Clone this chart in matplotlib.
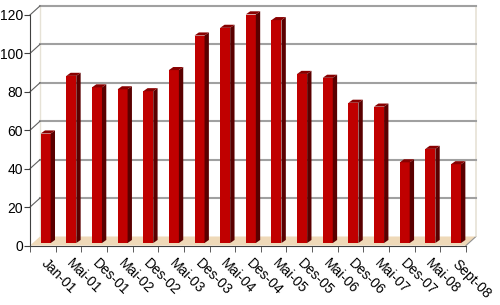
import matplotlib
matplotlib.use("Agg")
import matplotlib.pyplot as plt
from matplotlib.patches import Polygon
import matplotlib.transforms as mtransforms

plt.rcParams['font.family'] = ['Liberation Sans', 'DejaVu Sans']

labels = ['Jan-01', 'Mai-01', 'Des-01', 'Mai-02', 'Des-02', 'Mai-03', 'Des-03',
          'Mai-04', 'Des-04', 'Mai-05', 'Des-05', 'Mai-06', 'Des-06', 'Mai-07',
          'Des-07', 'Mai-08', 'Sept-08']
values = [57, 87, 81, 80, 79, 90, 108, 112, 119, 116, 88, 86, 73, 71, 42, 49, 41]
yticks = [0, 20, 40, 60, 80, 100, 120]

n = len(values)
ymax = 120
# 3d depth of the walls and of the bars (data units)
wdx, wdy = 0.39, 4.7
bdx, bdy = 0.17, 1.6
boff_x, boff_y = 0.11, 1.3
bw = 0.39

front = '#c00000'
side = '#5a0000'
top = '#880000'
grid_c = '#a0a0a0'
wall_c = '#e6e2d6'
floor_c = '#efd9b8'
axis_c = '#404040'

fig = plt.figure(figsize=(5, 3.05), dpi=100)
ax = fig.add_axes([0.06, 0.195, 0.872, 0.756])
ax.set_xlim(0, n)
ax.set_ylim(0, ymax)

# floor
ax.add_patch(Polygon([(0, 0), (n, 0), (n + wdx, wdy), (wdx, wdy)],
                     closed=True, facecolor=floor_c, edgecolor='none',
                     zorder=1, clip_on=False))
ax.plot([n, n + wdx], [0, wdy], color='#909090', lw=0.8, zorder=1, clip_on=False)

# walls
ax.plot([wdx, n + wdx], [ymax + wdy, ymax + wdy], color=wall_c, lw=1.2,
        zorder=1, clip_on=False)
ax.plot([n + wdx, n + wdx], [wdy, ymax + wdy], color=wall_c, lw=1.2,
        zorder=1, clip_on=False)
ax.plot([wdx, wdx], [wdy, ymax + wdy], color=wall_c, lw=1.0,
        zorder=1, clip_on=False)

# gridlines on back wall and left wall
for v in yticks[1:]:
    ax.plot([wdx, n + wdx], [v + wdy, v + wdy], color=grid_c, lw=1.5,
            zorder=1.5, clip_on=False)
    ax.plot([0, wdx], [v, v + wdy], color='#606060', lw=0.8,
            zorder=1.5, clip_on=False)

# bars
for i, v in enumerate(values):
    x0 = i + 0.5 - bw / 2 + boff_x
    x1 = x0 + bw
    y0 = boff_y
    y1 = v + boff_y
    ax.bar(x0, v, width=bw, bottom=y0, align='edge', color=front,
           edgecolor='none', zorder=3)
    ax.add_patch(Polygon([(x1, y0), (x1 + bdx, y0 + bdy), (x1 + bdx, y1 + bdy), (x1, y1)],
                         closed=True, facecolor=side, edgecolor='none', zorder=3,
                         clip_on=False))
    ax.add_patch(Polygon([(x0, y1), (x1, y1), (x1 + bdx, y1 + bdy), (x0 + bdx, y1 + bdy)],
                         closed=True, facecolor=top, edgecolor='none', zorder=3,
                         clip_on=False))

# axes styling
for s in ['top', 'right']:
    ax.spines[s].set_visible(False)
ax.spines['left'].set_color(axis_c)
ax.spines['bottom'].set_color(axis_c)
ax.spines['bottom'].set_zorder(4)

ax.set_yticks(yticks)
ax.tick_params(axis='y', direction='out', length=4, color=axis_c,
               labelsize=10, pad=1)

ax.set_xticks([i + 0.5 for i in range(n)])
ax.set_xticks(list(range(n + 1)), minor=True)
ax.tick_params(axis='x', which='major', length=0, pad=8)
ax.tick_params(axis='x', which='minor', direction='out', length=4, color=axis_c)
ax.set_xticklabels(labels, rotation=-45, ha='left', va='top',
                   rotation_mode='anchor', fontsize=10)
shift = mtransforms.ScaledTranslation(4 / 72, 0, fig.dpi_scale_trans)
for lab in ax.get_xticklabels():
    lab.set_transform(lab.get_transform() + shift)

fig.savefig('out.png', dpi=100)
